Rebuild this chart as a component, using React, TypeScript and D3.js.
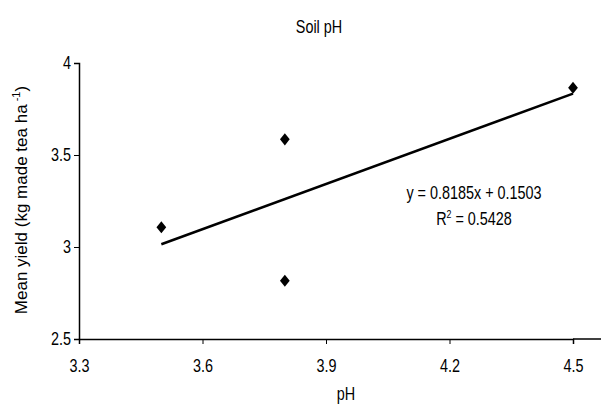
import React, { useEffect, useRef } from 'react';
import * as d3 from 'd3';

// measured soil pH and mean yield
const phValues = [3.5, 3.8, 3.8, 4.5];
const yieldValues = [3.107, 3.585, 2.817, 3.866];
const xTicks = [3.3, 3.6, 3.9, 4.2, 4.5];
const yTicks = [2.5, 3, 3.5, 4];
const trendSlope = 0.8185;
const trendIntercept = 0.1503;
const equationText = 'y = 0.8185x + 0.1503';
const rSquaredText = '0.5428';

const font = '"Liberation Sans", Arial, sans-serif';
const squeeze = 0.8; // no narrow face installed, so squash the regular one

const App = () => {
  const svgRef = useRef<SVGSVGElement>(null);

  useEffect(() => {
    const width = 613;
    const height = 406;
    const svg = d3.select(svgRef.current).attr('width', width).attr('height', height);
    svg.selectAll('*').remove();

    const x = d3.scaleLinear().domain([3.3, 4.5]).range([79, 573]);
    const y = d3.scaleLinear().domain([2.5, 4]).range([339, 63]);

    const narrowText = (px: number, py: number, size: number) =>
      svg.append('g')
        .attr('transform', `translate(${px}, ${py}) scale(${squeeze}, 1)`)
        .append('text')
        .attr('text-anchor', 'middle')
        .style('font-family', font).style('font-size', `${size}px`);

    // title
    narrowText(319, 33, 18).text('Soil pH');

    // x axis
    const xAxis = svg.append('g')
      .attr('transform', `translate(0, ${y(2.5)})`)
      .call(d3.axisBottom(x).tickValues(xTicks).tickFormat(d3.format('.1f')).tickSizeOuter(0).tickSize(5).tickPadding(15));
    xAxis.select('.domain').attr('stroke-width', 1.5);
    xAxis.append('line')
      .attr('x1', x(4.5)).attr('x2', x(4.5) + 28)
      .attr('stroke', '#000').attr('stroke-width', 1.5);
    xAxis.selectAll('text')
      .attr('transform', `scale(${squeeze}, 1)`)
      .style('font-family', font).style('font-size', '18px').attr('fill', '#000');

    // y axis
    const yAxis = svg.append('g')
      .attr('transform', `translate(${x(3.3)}, 0)`)
      .call(d3.axisLeft(y).tickValues(yTicks).tickFormat(d3.format('')).tickSizeOuter(0).tickSize(5));
    yAxis.select('.domain').attr('stroke-width', 1.5);
    yAxis.selectAll('text')
      .attr('x', -8 / squeeze)
      .attr('transform', `scale(${squeeze}, 1)`)
      .style('font-family', font).style('font-size', '18px').attr('fill', '#000');

    // axis titles
    narrowText(346, 400, 18).text('pH');

    const yTitle = svg.append('text')
      .attr('transform', 'translate(27, 200) rotate(-90)')
      .attr('text-anchor', 'middle')
      .style('font-family', font).style('font-size', '17px');
    yTitle.append('tspan').text('Mean yield (kg made tea ha');
    yTitle.append('tspan').attr('dy', -7).style('font-size', '11px').text(' -1');
    yTitle.append('tspan').attr('dy', 7).text(')');

    // trendline
    const xExtent = d3.extent(phValues) as [number, number];
    const trend = xExtent.map(v => [v, trendSlope * v + trendIntercept] as [number, number]);
    svg.append('path')
      .datum(trend)
      .attr('d', d3.line<[number, number]>().x(d => x(d[0])).y(d => y(d[1])))
      .attr('fill', 'none').attr('stroke', '#000').attr('stroke-width', 2.5);

    // points
    const diamond = d3.symbol(d3.symbolDiamond, 42);
    svg.selectAll('.pt')
      .data(phValues.map((v, i) => [v, yieldValues[i]]))
      .join('path')
      .attr('class', 'pt')
      .attr('d', diamond)
      .attr('transform', d => `translate(${x(d[0])}, ${y(d[1])}) scale(1.4, 1)`)
      .attr('fill', '#000');

    // equation
    narrowText(474, 199, 18).text(equationText);
    const r2 = narrowText(474, 225, 18);
    r2.append('tspan').text('R');
    r2.append('tspan').attr('dy', -7).style('font-size', '11px').text('2');
    r2.append('tspan').attr('dy', 7).text(` = ${rSquaredText}`);
  }, []);

  return (
    <svg ref={svgRef} style={{ position: 'absolute', left: 0, top: 0, background: '#fff' }}></svg>
  );
};

export default App;
